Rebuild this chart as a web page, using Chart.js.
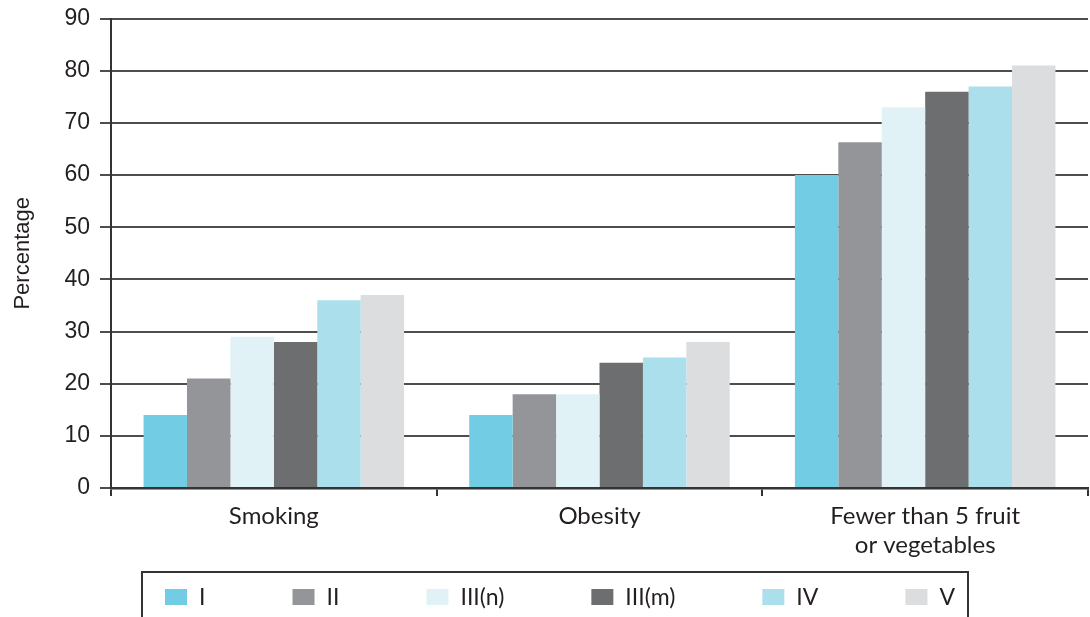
<!DOCTYPE html>
<html>
<head>
<meta charset="utf-8">
<script src="https://cdn.jsdelivr.net/npm/chart.js@4"></script>
<style>
  html, body { margin: 0; padding: 0; background: #fff; }
  #wrap { width: 1090px; height: 617px; position: relative; }
</style>
</head>
<body>
<div id="wrap"><canvas id="chart"></canvas></div>
<script>
const categories = ["Smoking", "Obesity", ["Fewer than 5 fruit", "or vegetables"]];
const classLabels = ["I", "II", "III(n)", "III(m)", "IV", "V"];
const classColors = ["#72cde4", "#939598", "#e1f2f7", "#6d6e70", "#acdfec", "#dcdddf"];
const classI = [14, 14, 60];
const classII = [21, 18, 66.3];
const classIIIn = [29, 18, 73];
const classIIIm = [28, 24, 76];
const classIV = [36, 25, 77];
const classV = [37, 28, 81];
const yTicks = [0, 10, 20, 30, 40, 50, 60, 70, 80, 90];

const seriesValues = [classI, classII, classIIIn, classIIIm, classIV, classV];

// legend drawn inside a framed box under the axis labels
const boxedLegend = {
    id: "boxedLegend",
    afterDraw(chart) {
        const ctx = chart.ctx;
        ctx.save();
        ctx.strokeStyle = "#333";
        ctx.lineWidth = 2;
        ctx.strokeRect(142, 572, 826, 60);

        ctx.font = "23px Lato";
        ctx.textBaseline = "middle";
        const boxW = 22, boxH = 16, gap = 12;
        const startX = 165, endX = 955;
        const items = chart.data.datasets;
        let used = 0;
        items.forEach(ds => { used += boxW + gap + ctx.measureText(ds.label).width; });
        const spacing = (endX - startX - used) / (items.length - 1);
        let x = startX;
        const y = 597;
        items.forEach(ds => {
            ctx.fillStyle = ds.backgroundColor;
            ctx.fillRect(x, y - boxH / 2, boxW, boxH);
            ctx.fillStyle = "#231f20";
            ctx.fillText(ds.label, x + boxW + gap, y + 1);
            x += boxW + gap + ctx.measureText(ds.label).width + spacing;
        });
        ctx.restore();
    }
};

const ctx = document.getElementById("chart").getContext("2d");

const chart = new Chart(ctx, {
    type: "bar",
    data: {
        labels: categories,
        datasets: classLabels.map((label, i) => ({
            label: label,
            data: seriesValues[i],
            backgroundColor: classColors[i],
            borderWidth: 0,
            categoryPercentage: 0.8,
            barPercentage: 1.0
        }))
    },
    options: {
        responsive: true,
        maintainAspectRatio: false,
        animation: false,
        layout: {
            padding: { top: 18, right: 2, bottom: 49, left: 0 }
        },
        plugins: {
            legend: { display: false },
            tooltip: { enabled: false }
        },
        scales: {
            y: {
                min: 0,
                max: 90,
                afterFit: scale => { scale.width = 111; },
                afterBuildTicks: scale => { scale.ticks = yTicks.map(v => ({ value: v })); },
                ticks: {
                    color: "#231f20",
                    font: { family: "Liberation Sans", size: 23, lineHeight: 0.75 },
                    padding: 10
                },
                grid: {
                    color: "#4d4d4d",
                    lineWidth: 2,
                    tickLength: 11,
                    tickColor: "#4d4d4d"
                },
                border: { color: "#333", width: 2 },
                title: {
                    display: true,
                    text: "Percentage",
                    color: "#231f20",
                    font: { family: "Liberation Sans", size: 22 },
                    padding: { top: 10, bottom: 0 }
                }
            },
            x: {
                afterFit: scale => { scale.height = 80; },
                ticks: {
                    color: "#231f20",
                    font: { family: "Lato", size: 24, lineHeight: 1.2 },
                    padding: 6,
                    maxRotation: 0
                },
                grid: {
                    offset: true,
                    drawOnChartArea: false,
                    tickLength: 8,
                    color: "#333",
                    lineWidth: 2
                },
                border: { color: "#333", width: 2.5 }
            }
        }
    },
    plugins: [boxedLegend]
});
</script>
</body>
</html>
